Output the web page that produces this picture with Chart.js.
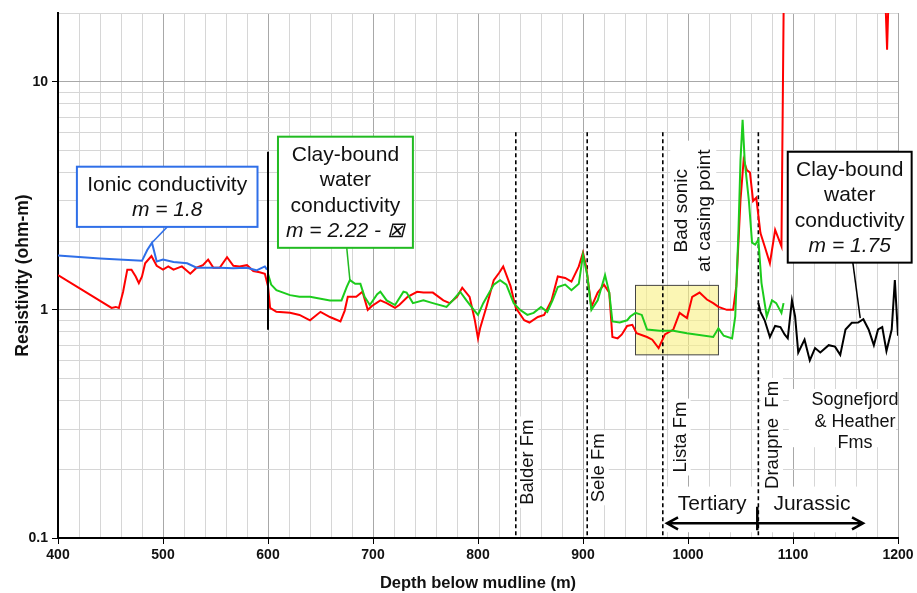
<!DOCTYPE html>
<html>
<head>
<meta charset="utf-8">
<script src="https://cdn.jsdelivr.net/npm/chart.js@4.4.1/dist/chart.umd.min.js"></script>
<style>
  html, body { margin: 0; padding: 0; background: #fff; }
  #wrap { width: 917px; height: 593px; position: relative; }
</style>
</head>
<body>
<div id="wrap"><canvas id="chart1"></canvas></div>
<script>
// resistivity logs, depth (m) vs ohm-m
const blueDepth = [400, 440, 480, 485, 489.5, 494, 500, 510, 523, 532, 542, 554, 567, 580, 589, 597, 599]
const blueRes   = [1.73, 1.68, 1.64, 1.83, 1.97, 1.63, 1.66, 1.62, 1.60, 1.53, 1.53, 1.53, 1.52, 1.53, 1.49, 1.55, 1.50]

const redDepth = [400, 451, 455, 458, 462, 466, 470, 474, 477, 480, 483, 489, 494, 500, 505, 510, 518, 526, 532, 538,
    543, 548, 554, 561, 567, 573, 580, 586, 592, 597, 600, 602, 608, 621, 630, 640, 650, 659, 669, 673,
    676, 684, 690, 695, 699, 707, 713, 721, 725, 733, 742, 748, 757, 767, 773, 780, 785, 792, 797, 800,
    802, 808, 815, 820, 824, 831, 836, 844, 849, 857, 863, 870, 876, 883, 889, 896, 900, 903, 908, 914,
    920, 925, 928, 933, 937, 942, 947, 951, 961, 966, 972, 978, 986, 992, 999, 1004, 1011, 1018, 1024, 1029,
    1037, 1043, 1046, 1050, 1053, 1056, 1059, 1062, 1065, 1069, 1073, 1078, 1083, 1089, 1092, 1185, 1189.6, 1193.5]
const redRes = [1.42, 1.02, 1.03, 1.02, 1.20, 1.50, 1.50, 1.40, 1.31, 1.40, 1.60, 1.72, 1.56, 1.50, 1.55, 1.50, 1.55, 1.44, 1.53, 1.57,
    1.66, 1.53, 1.53, 1.70, 1.56, 1.55, 1.57, 1.48, 1.46, 1.44, 1.27, 1.02, 0.98, 0.97, 0.95, 0.90, 0.98, 0.93, 0.89, 0.99,
    1.14, 1.14, 1.20, 1.00, 1.04, 1.10, 1.07, 1.02, 1.05, 1.14, 1.20, 1.19, 1.19, 1.10, 1.07, 1.14, 1.25, 1.14, 0.90, 0.75,
    0.83, 1.03, 1.35, 1.45, 1.55, 1.27, 1.02, 0.90, 0.88, 0.93, 0.95, 1.10, 1.40, 1.38, 1.33, 1.55, 1.78, 1.55, 1.03, 1.19,
    1.29, 1.19, 0.76, 0.75, 0.78, 0.85, 0.86, 0.79, 0.76, 0.74, 0.68, 0.78, 0.82, 0.97, 0.92, 1.14, 1.19, 1.11, 1.07, 1.03,
    1.00, 1.00, 1.27, 3.03, 4.54, 4.10, 4.00, 3.00, 3.10, 2.17, 1.90, 1.60, 2.24, 1.90, 60, 60, 13.8, 60]

const greenDepth = [600, 603, 608, 621, 630, 640, 659, 670, 675, 678, 683, 688, 692, 697, 704, 707, 713, 721, 729, 732,
    738, 748, 757, 770, 776, 783, 789, 796, 800, 805, 815, 821, 827, 834, 840, 847, 853, 860, 866, 871,
    876, 883, 889, 896, 900, 904, 908, 914, 921, 925, 928, 935, 942, 945, 950, 956, 961, 973, 986, 999,
    1024, 1029, 1034, 1042, 1045, 1048, 1050, 1052, 1054, 1058, 1061, 1064, 1067, 1070, 1075, 1080, 1084, 1089, 1091]
const greenRes = [1.44, 1.29, 1.22, 1.16, 1.14, 1.14, 1.10, 1.10, 1.26, 1.35, 1.30, 1.30, 1.14, 1.05, 1.17, 1.20, 1.10, 1.05, 1.20, 1.19,
    1.07, 1.10, 1.07, 1.03, 1.10, 1.20, 1.10, 1.00, 0.95, 1.07, 1.29, 1.35, 1.29, 1.07, 1.00, 0.95, 0.97, 1.03, 0.98, 1.10,
    1.26, 1.29, 1.22, 1.30, 1.74, 1.42, 1.00, 1.10, 1.42, 1.19, 0.89, 0.88, 0.90, 0.935, 0.97, 0.95, 0.82, 0.81, 0.81, 0.79,
    0.76, 0.83, 0.77, 0.75, 0.935, 2.17, 4.54, 6.8, 4.5, 3.0, 1.97, 1.93, 2.03, 1.31, 0.935, 1.10, 1.07, 0.97, 1.07]

const blackDepth = [1067, 1069, 1073, 1078, 1083, 1088, 1092, 1095, 1099, 1102, 1105, 1111, 1116, 1121, 1126, 1134, 1140, 1145, 1150, 1156,
    1162, 1167, 1172, 1177, 1181, 1185, 1189, 1194, 1197, 1200]
const blackRes = [1.07, 0.98, 0.90, 0.76, 0.85, 0.84, 0.78, 0.75, 1.10, 0.935, 0.65, 0.74, 0.60, 0.68, 0.65, 0.70, 0.69, 0.635, 0.82, 0.877,
    0.88, 0.91, 0.82, 0.70, 0.82, 0.84, 0.66, 0.82, 1.35, 0.77]

const yTicks = [0.1, 0.2, 0.3, 0.4, 0.5, 0.6, 0.7, 0.8, 0.9, 1, 2, 3, 4, 5, 6, 7, 8, 9, 10, 20]
const yLabels = [0.1, 1, 10]

// formation tops (dashed) and their names
const tops = [836, 904, 976, 1067]
const topNames = [['Balder Fm', 847, 0.215], ['Sele Fm', 914, 0.203], ['Lista Fm', 992, 0.277], ['Draupne  Fm', 1080, 0.283]]

const FONT = '"Liberation Sans", Arial, sans-serif'

function pts(xs, ys){
    return xs.map((x, i) => ({x: x, y: ys[i]}))
}

function onTick(list, v){
    return list.some(t => Math.abs(t - v) < t * 1e-6)
}

const notes = {
    id: 'notes',
    beforeDatasetsDraw(chart){
        const ctx = chart.ctx
        const sx = chart.scales.x, sy = chart.scales.y
        const px = v => sx.getPixelForValue(v)
        const py = v => sy.getPixelForValue(v)
        ctx.save()

        // highlighted interval
        ctx.fillStyle = 'rgba(248, 240, 130, 0.6)'
        ctx.strokeStyle = '#444'
        ctx.lineWidth = 1
        const bx = px(950), by = py(1.28)
        ctx.fillRect(bx, by, px(1029) - bx, py(0.635) - by)
        ctx.strokeRect(bx, by, px(1029) - bx, py(0.635) - by)

        // white patches behind the lower labels
        ctx.fillStyle = '#fff'
        ctx.fillRect(px(979), py(0.168), px(1169) - px(979), py(0.106) - py(0.168))
        ctx.fillRect(px(1096), py(0.45), px(1200) - px(1096) - 2, py(0.25) - py(0.45))

        ctx.font = '18.5px ' + FONT
        ctx.textAlign = 'center'
        ctx.textBaseline = 'middle'
        topNames.forEach(t => {
            ctx.save()
            ctx.translate(px(t[1]), py(t[2]))
            ctx.rotate(-Math.PI / 2)
            const w = ctx.measureText(t[0]).width
            ctx.fillStyle = '#fff'
            ctx.fillRect(-w / 2 - 3, -11, w + 6, 22)
            ctx.fillStyle = '#111'
            ctx.fillText(t[0], 0, 1)
            ctx.restore()
        })

        // bad sonic note
        ctx.save()
        ctx.translate(px(1005), py(2.72))
        ctx.rotate(-Math.PI / 2)
        ctx.fillStyle = '#fff'
        ctx.fillRect(-70, -23, 140, 46)
        ctx.fillStyle = '#111'
        ctx.font = '19px ' + FONT
        ctx.fillText('Bad sonic', 0, -11)
        ctx.fillText('at casing point', 0, 12)
        ctx.restore()

        ctx.fillStyle = '#111'
        ctx.font = '18px ' + FONT
        const sc = py(0.323)
        ;['Sognefjord', '& Heather', 'Fms'].forEach((t, i) => ctx.fillText(t, px(1159), sc + (i - 1) * 21.5))
        ctx.font = '21px ' + FONT
        ctx.fillText('Tertiary', px(1023), py(0.14))
        ctx.fillText('Jurassic', px(1118), py(0.14))

        // era arrow
        const ay = py(0.116), a0 = px(980), a1 = px(1166.7)
        ctx.strokeStyle = '#000'
        ctx.lineWidth = 2.5
        ctx.beginPath()
        ctx.moveTo(a0, ay); ctx.lineTo(a1, ay)
        ctx.moveTo(a0 + 11, ay - 6); ctx.lineTo(a0, ay); ctx.lineTo(a0 + 11, ay + 6)
        ctx.moveTo(a1 - 11, ay - 6); ctx.lineTo(a1, ay); ctx.lineTo(a1 - 11, ay + 6)
        ctx.moveTo(px(1066), py(0.137)); ctx.lineTo(px(1066), py(0.108))
        ctx.stroke()

        // formation tops
        ctx.lineWidth = 1.6
        ctx.setLineDash([4, 3])
        ctx.beginPath()
        tops.forEach(d => {
            ctx.moveTo(px(d), py(6)); ctx.lineTo(px(d), py(0.1))
        })
        ctx.stroke()
        ctx.setLineDash([])
        ctx.restore()
    },
    afterDatasetsDraw(chart){
        const ctx = chart.ctx
        const sx = chart.scales.x, sy = chart.scales.y
        const px = v => sx.getPixelForValue(v)
        const py = v => sy.getPixelForValue(v)
        ctx.save()

        // casing point
        ctx.strokeStyle = '#000'
        ctx.lineWidth = 2
        ctx.beginPath()
        ctx.moveTo(px(600), py(4.93)); ctx.lineTo(px(600), py(0.817))
        ctx.stroke()

        callout(ctx, px, py, '#2f6fe8', [418, 590, 4.24, 2.31], ['Ionic conductivity'], 'm = 1.8', [504, 2.31, 489.5, 1.97])
        callout(ctx, px, py, '#22bb22', [609.5, 738, 5.74, 1.87], ['Clay-bound', 'water', 'conductivity'], 'm = 2.22 - \u22a0', [675, 1.87, 678, 1.35])
        callout(ctx, px, py, '#000', [1095, 1213, 4.93, 1.61], ['Clay-bound', 'water', 'conductivity'], 'm = 1.75', [1157, 1.61, 1164, 0.92])
        ctx.restore()
    }
}

function callout(ctx, px, py, color, box, lines, last, lead){
    ctx.strokeStyle = color
    ctx.lineWidth = 1.5
    ctx.beginPath()
    ctx.moveTo(px(lead[0]), py(lead[1])); ctx.lineTo(px(lead[2]), py(lead[3]))
    ctx.stroke()

    const x0 = px(box[0]), x1 = px(box[1]), y0 = py(box[2]), y1 = py(box[3])
    ctx.fillStyle = '#fff'
    ctx.fillRect(x0, y0, x1 - x0, y1 - y0)
    ctx.lineWidth = 2
    ctx.strokeRect(x0, y0, x1 - x0, y1 - y0)

    const all = lines.length + 1
    const lh = 25.5
    const first = (y0 + y1) / 2 - lh * (all - 1) / 2
    ctx.fillStyle = '#111'
    ctx.textAlign = 'center'
    ctx.textBaseline = 'middle'
    ctx.font = '21px ' + FONT
    lines.forEach((t, i) => ctx.fillText(t, (x0 + x1) / 2, first + lh * i + 1))
    ctx.font = 'italic 21px ' + FONT
    ctx.fillText(last, (x0 + x1) / 2, first + lh * (all - 1) + 1)
}

function iniciarGrafico(){
    const data = {
        datasets: [
            {data: pts(blueDepth, blueRes), borderColor: '#2f6fe8'},
            {data: pts(greenDepth, greenRes), borderColor: '#1ccc1c'},
            {data: pts(blackDepth, blackRes), borderColor: '#000'},
            {data: pts(redDepth, redRes), borderColor: '#ff0000'}
        ]
    }
    data.datasets.forEach(d => {
        d.borderWidth = 2
        d.pointRadius = 0
        d.tension = 0
    })

    new Chart(document.getElementById('chart1'), {
        type: 'line',
        data,
        plugins: [notes],
        options: {
            responsive: true,
            maintainAspectRatio: false,
            animation: false,
            layout: {padding: {top: 13, right: 19, left: 0, bottom: 0}},
            plugins: {legend: {display: false}, tooltip: {enabled: false}},
            scales: {
                x: {
                    type: 'linear',
                    min: 400,
                    max: 1200,
                    border: {color: '#000', width: 2},
                    grid: {
                        color: c => c.tick.value % 100 === 0 ? '#a8a8a8' : '#d6d6d6',
                        tickColor: c => c.tick.value % 100 === 0 ? '#000' : 'rgba(0,0,0,0)',
                        tickLength: 6
                    },
                    ticks: {
                        stepSize: 20,
                        autoSkip: false,
                        maxRotation: 0,
                        padding: 3,
                        color: '#111',
                        font: {family: FONT, size: 14, weight: 'bold'},
                        callback: v => v % 100 === 0 ? v : ''
                    },
                    title: {
                        display: true,
                        text: 'Depth below mudline (m)',
                        color: '#111',
                        font: {family: FONT, size: 16.5, weight: 'bold'},
                        padding: {top: 0, bottom: 0}
                    },
                    afterFit: s => { s.height = 55 }
                },
                y: {
                    type: 'logarithmic',
                    min: 0.1,
                    max: 20,
                    border: {color: '#000', width: 2},
                    afterBuildTicks: s => { s.ticks = yTicks.map(v => ({value: v})) },
                    grid: {
                        color: c => {
                            const v = c.tick.value
                            if (!onTick(yTicks, v)) return 'rgba(0,0,0,0)'
                            return onTick([1, 10], v) ? '#a8a8a8' : '#d6d6d6'
                        },
                        tickColor: c => onTick(yLabels, c.tick.value) ? '#000' : 'rgba(0,0,0,0)',
                        tickLength: 6
                    },
                    ticks: {
                        autoSkip: false,
                        padding: 4,
                        color: '#111',
                        font: {family: FONT, size: 14, weight: 'bold'},
                        callback: v => onTick(yLabels, v) ? String(v) : ''
                    },
                    title: {
                        display: true,
                        text: 'Resistivity (ohm-m)',
                        color: '#111',
                        font: {family: FONT, size: 17.5, weight: 'bold'},
                        padding: {top: 13, bottom: 0}
                    },
                    afterFit: s => { s.width = 58 }
                }
            }
        }
    })
}

iniciarGrafico()
</script>
</body>
</html>
